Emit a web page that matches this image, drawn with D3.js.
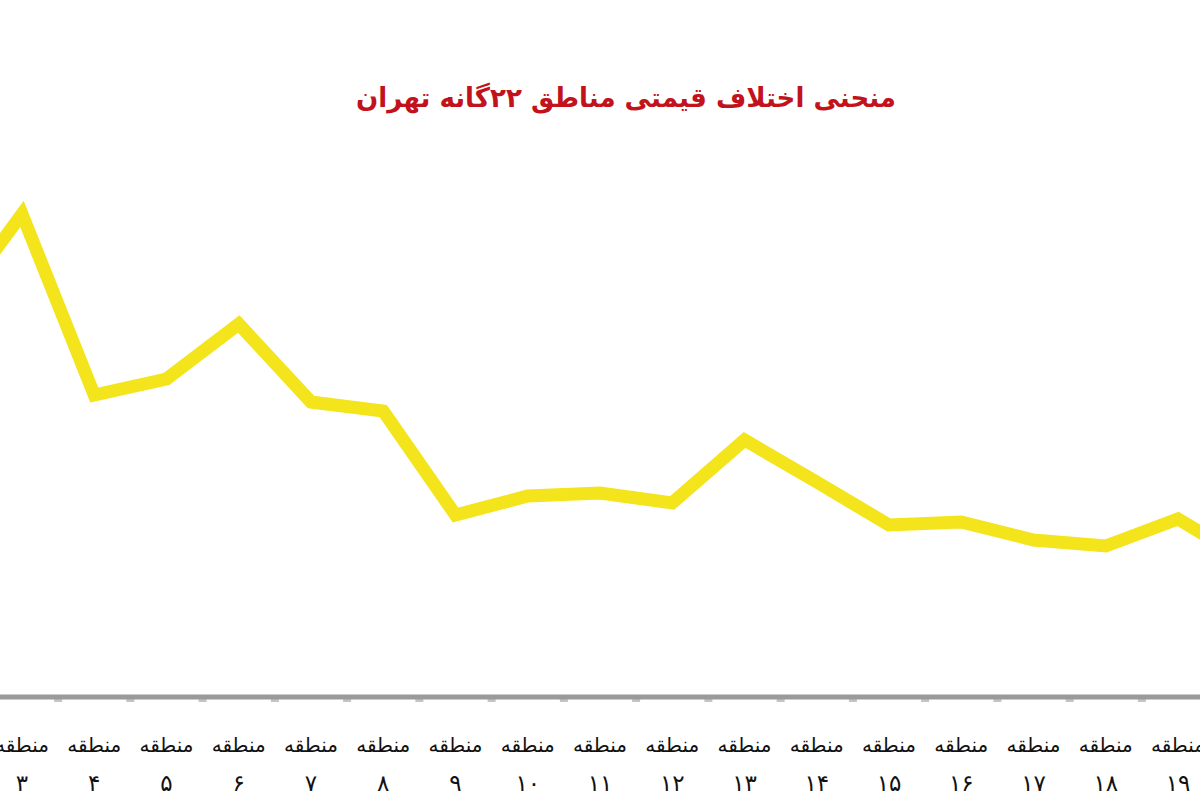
<!DOCTYPE html>
<html>
<head>
<meta charset="utf-8">
<script src="https://cdn.jsdelivr.net/npm/d3@7/dist/d3.min.js"></script>
<style>
  html, body { margin: 0; padding: 0; background: #fff; overflow: hidden; }
  svg { display: block; }
</style>
</head>
<body>
<svg id="chart" width="1200" height="800"></svg>
<script>
// Zones (district numbers) and relative price index
const zones = [2, 3, 4, 5, 6, 7, 8, 9, 10, 11, 12, 13, 14, 15, 16, 17, 18, 19, 20];
const priceIndex = [76.6, 96.2, 60.0, 63.2, 74.2, 58.6, 56.8, 36.0, 39.8, 40.4, 38.4, 51.0, 42.6, 34.0, 34.6, 31.0, 29.8, 35.2, 26.6];
const zoneWord = "منطقه";
const title = "منحنی اختلاف قیمتی مناطق ۲۲گانه تهران";

const toFa = n => String(n).replace(/\d/g, d => "۰۱۲۳۴۵۶۷۸۹"[d]);

const svg = d3.select("#chart");
const W = 1200, H = 800;

const x = d3.scaleLinear().domain([3, 19]).range([22, 1178]);
const y = d3.scaleLinear().domain([0, 100]).range([695, 195]);

const data = zones.map((z, i) => ({ z, v: priceIndex[i] }));

// Title
svg.append("text")
  .attr("x", 626).attr("y", 107)
  .attr("text-anchor", "middle")
  .attr("direction", "rtl")
  .attr("font-family", "DejaVu Sans")
  .attr("font-weight", "bold")
  .attr("font-size", 27)
  .attr("textLength", 540)
  .attr("lengthAdjust", "spacingAndGlyphs")
  .attr("fill", "#c2121b")
  .text(title);

// Axis line and ticks (ticks between categories)
const axisY = 697;
const tickPos = d3.range(2.5, 20.5, 1);
svg.selectAll("line.tick").data(tickPos).enter().append("line")
  .attr("class", "tick")
  .attr("x1", d => x(d)).attr("x2", d => x(d))
  .attr("y1", axisY).attr("y2", axisY + 5)
  .attr("stroke", "#c4c4c4").attr("stroke-width", 8);
svg.append("line")
  .attr("x1", 0).attr("x2", W)
  .attr("y1", axisY).attr("y2", axisY)
  .attr("stroke", "#9a9a9a").attr("stroke-width", 5);

// Category labels
const lbl = svg.selectAll("g.lbl").data(zones).enter().append("g")
  .attr("class", "lbl")
  .attr("transform", d => `translate(${x(d)},0)`);
lbl.append("text")
  .attr("y", 752)
  .attr("text-anchor", "middle")
  .attr("direction", "rtl")
  .attr("font-family", "DejaVu Sans")
  .attr("font-size", 20)
  .attr("fill", "#111")
  .text(zoneWord);
lbl.append("text")
  .attr("y", 791)
  .attr("text-anchor", "middle")
  .attr("direction", "rtl")
  .attr("font-family", "DejaVu Sans")
  .attr("font-size", 23)
  .attr("fill", "#111")
  .text(d => toFa(d));

// Line
const line = d3.line().x(d => x(d.z)).y(d => y(d.v));
svg.append("path")
  .datum(data)
  .attr("d", line)
  .attr("fill", "none")
  .attr("stroke", "#f3e41b")
  .attr("stroke-width", 13)
  .attr("stroke-linejoin", "miter");
</script>
</body>
</html>
